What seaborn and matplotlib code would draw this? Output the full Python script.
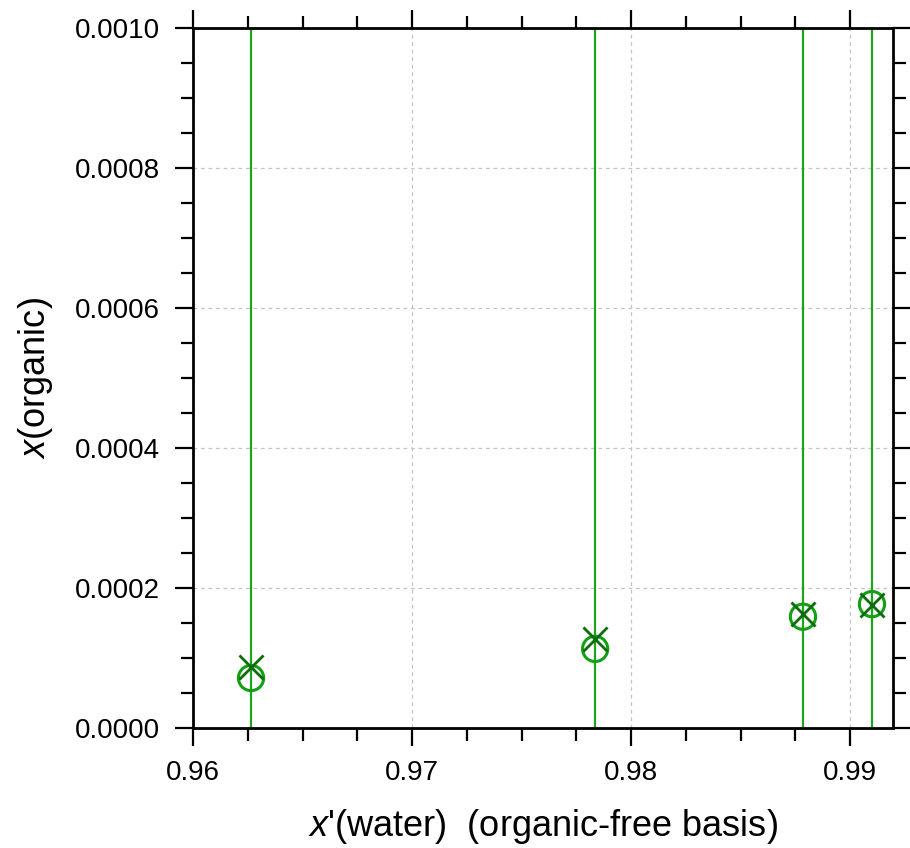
import numpy as np
import pandas as pd
import seaborn as sns
import matplotlib.pyplot as plt
from matplotlib.ticker import MultipleLocator, FormatStrFormatter

# values
x_water = [0.96265, 0.97836, 0.98785, 0.99100]
x_org_circle = [0.0000714, 0.000113, 0.000159, 0.000177]
x_org_cross = [0.0000871, 0.000127, 0.000163, 0.000176]

df = pd.DataFrame({'xw': x_water, 'circle': x_org_circle, 'cross': x_org_cross})

sns.set_style('ticks')
plt.rcParams['font.family'] = ['Liberation Sans', 'DejaVu Sans']
plt.rcParams['mathtext.fontset'] = 'custom'
plt.rcParams['mathtext.rm'] = 'Liberation Sans'
plt.rcParams['mathtext.it'] = 'Liberation Sans:italic'

fig = plt.figure(figsize=(9.1, 8.48), dpi=100)
ax = fig.add_axes([193 / 910, 1 - 728 / 848, 700 / 910, 700 / 848])

# vertical tie lines at each feed composition
ax.vlines(df['xw'], 0, 1, transform=ax.get_xaxis_transform(), color='#1fa31f', lw=1.6, zorder=2)

sns.scatterplot(data=df, x='xw', y='circle', ax=ax, marker='o', s=330,
                facecolor='none', edgecolor='#12a012', linewidth=2.2, zorder=3)
sns.scatterplot(data=df, x='xw', y='cross', ax=ax, marker='x', s=300,
                color='#0b6e0b', linewidth=2.0, zorder=4)

ax.set_xlim(0.96, 0.99196)
ax.set_ylim(0, 0.001)
ax.xaxis.set_major_locator(MultipleLocator(0.01))
ax.xaxis.set_minor_locator(MultipleLocator(0.0025))
ax.yaxis.set_major_locator(MultipleLocator(0.0002))
ax.yaxis.set_minor_locator(MultipleLocator(0.00005))
ax.xaxis.set_major_formatter(FormatStrFormatter('%.2f'))
ax.yaxis.set_major_formatter(FormatStrFormatter('%.4f'))

ax.grid(True, which='major', color='#c4c4c4', linestyle=(0, (3, 3)), linewidth=0.9)
ax.set_axisbelow(True)

ax.tick_params(which='both', direction='out', top=True, right=True, width=1.6,
               colors='black', labelcolor='black', labelsize=20)
ax.tick_params(which='major', length=13)
ax.tick_params(which='minor', length=9)
ax.tick_params(axis='x', which='major', pad=10)
ax.tick_params(axis='y', which='major', pad=11)
for s in ax.spines.values():
    s.set_linewidth(2)
    s.set_color('black')

ax.set_xlabel("$x$'(water)  (organic-free basis)", fontsize=26, labelpad=15, color='black')
ax.set_ylabel('$x$(organic)', fontsize=26, labelpad=14, color='black')

fig.savefig('out.png', dpi=100)
